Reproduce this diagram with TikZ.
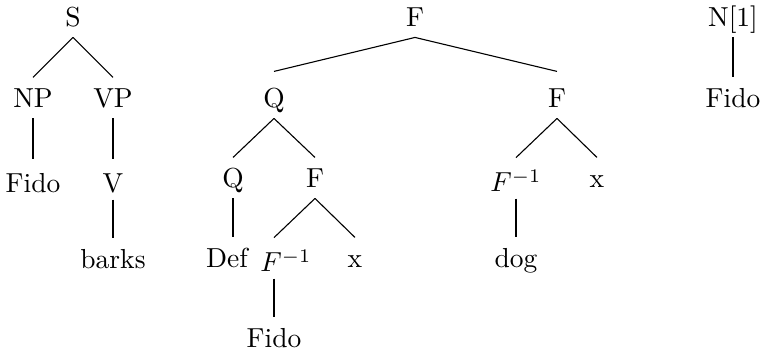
\documentclass[tikz,border=0pt]{standalone}
\usepackage{amsmath}
\usepackage{tikz}

\begin{document}
\begin{tikzpicture}[
    x=0.3636pt, y=-0.3636pt,
    cat/.style={anchor=base, inner sep=0pt, text height=10.9pt, text depth=3.6pt},
    low/.style={cat, text height=12.3pt, text depth=2.2pt},
    branch/.style={line width=0.4pt}
]
\useasboundingbox (0,0) rectangle (762,354);

% sentence tree
\node[cat] (s) at (73,27) {S};
\node[cat] (np) at (33,108) {NP};
\node[cat] (vp) at (113,108) {VP};
\node[low] (fidoa) at (33,193) {Fido};
\node[low] (v) at (113,193) {V};
\node[cat] (barks) at (113,269) {barks};

\draw[branch] (s.south) -- (np.north);
\draw[branch] (s.south) -- (vp.north);
\draw[branch] (np.south) -- (fidoa.north);
\draw[branch] (vp.south) -- (v.north);
\draw[branch] (v.south) -- (barks.north);

% function tree
\node[cat] (froot) at (415,27) {F};
\node[cat] (qa) at (274,108) {Q};
\node[cat] (fa) at (557,108) {F};
\node[cat] (qb) at (233,188) {Q};
\node[cat] (fb) at (315,188) {F};
\node[cat] (def) at (227,268) {Def};
\node[low] (finva) at (286,272) {$F^{-1}$};
\node[cat] (xa) at (355,268) {x};
\node[cat] (fidob) at (274,348) {Fido};
\node[low] (finvb) at (516,192) {$F^{-1}$};
\node[cat] (xb) at (597,188) {x};
\node[cat] (dog) at (516,268) {dog};

\draw[branch] (froot.south) -- ([yshift=2.2pt]qa.north);
\draw[branch] (froot.south) -- ([yshift=2.2pt]fa.north);
\draw[branch] (qa.south) -- (qb.north);
\draw[branch] (qa.south) -- (fb.north);
\draw[branch] (qb.south) -- (def.north -| qb.north);
\draw[branch] (fb.south) -- (finva.north -| fidob.north);
\draw[branch] (fb.south) -- (xa.north);
\draw[branch] (finva.south -| fidob.north) -- (fidob.north);
\draw[branch] (fa.south) -- (finvb.north);
\draw[branch] (fa.south) -- (xb.north);
\draw[branch] (finvb.south) -- (dog.north);

% name tree
\node[cat] (n) at (733,27) {N[1]};
\node[cat] (fidoc) at (733,108) {Fido};
\draw[branch] (n.south) -- (fidoc.north);
\end{tikzpicture}
\end{document}
